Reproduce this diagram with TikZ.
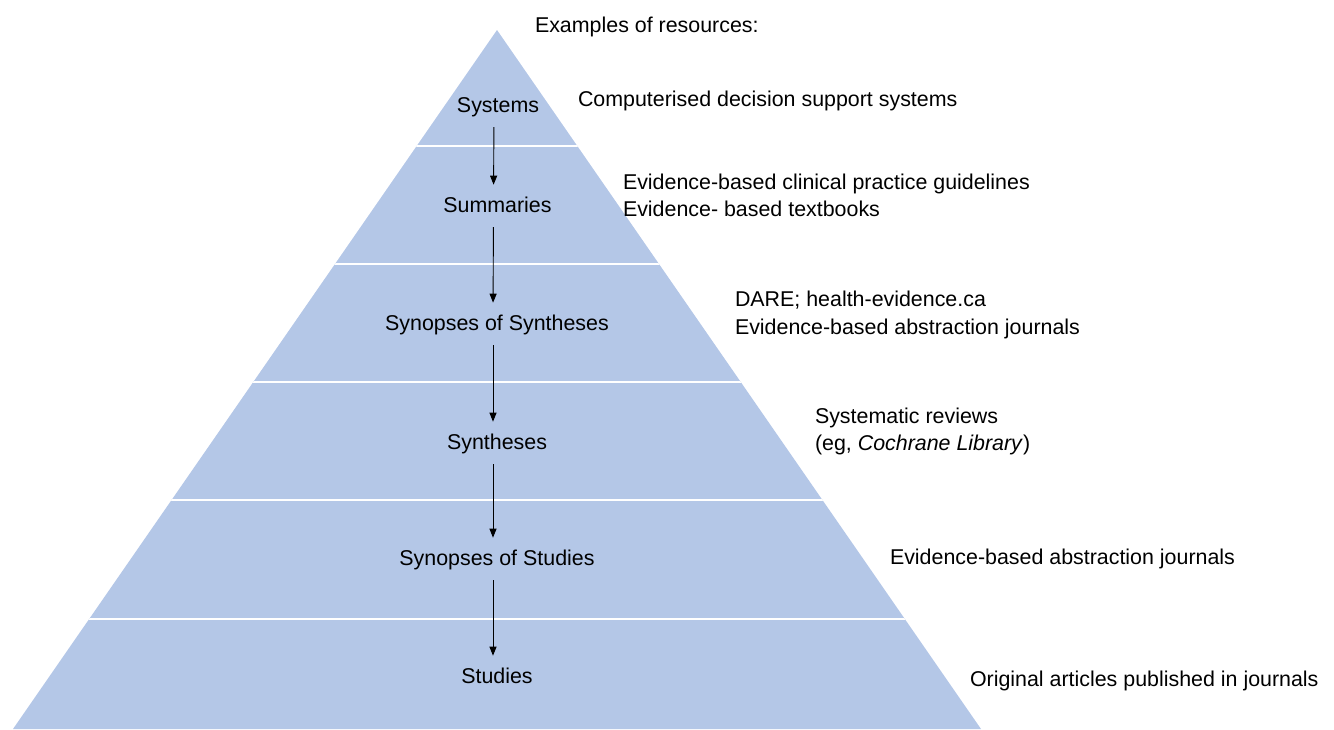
\documentclass[tikz,border=0pt]{standalone}
\usepackage{fontspec}
\setmainfont{Liberation Sans}
\usetikzlibrary{arrows.meta}
\definecolor{pyrblue}{HTML}{B4C7E7}
\begin{document}
\begin{tikzpicture}[x=1pt,y=-1pt,
  every node/.style={font=\fontsize{21.4}{26}\selectfont, inner sep=0pt, outer sep=0pt},
  lvl/.style={anchor=base, text height=15.3pt, text depth=4pt},
  res/.style={anchor=base west},
  sep/.style={white, line width=2pt},
  arr/.style={-{Triangle[width=7pt,length=9pt]}, line width=0.9pt, black, shorten <=11pt, shorten >=12pt}]
\useasboundingbox (0,0) rectangle (1334,729);
% pyramid
\coordinate (apex) at (497,30);
\coordinate (bl) at (13,729);
\coordinate (br) at (981,729);
\fill[pyrblue] (apex) -- (br) -- (bl) -- cycle;
\begin{scope}
  \clip (apex) -- (br) -- (bl) -- cycle;
  \foreach \yy in {146,264,382,500,619}
    \draw[sep] (0,\yy) -- (1334,\yy);
\end{scope}
% level labels
\node[lvl] (sys) at (498,112) {Systems};
\node[lvl] (sum) at (497.5,212) {Summaries};
\node[lvl] (sos) at (497,330) {Synopses of Syntheses};
\node[lvl] (syn) at (497,449) {Syntheses};
\node[lvl] (sst) at (497,565) {Synopses of Studies};
\node[lvl] (stu) at (497,683) {Studies};
% arrows
\draw[arr] ([xshift=-4pt]sys.south) -- ([xshift=-4pt]sum.north);
\draw[arr] ([xshift=-4pt]sum.south) -- ([xshift=-4pt]sos.north);
\draw[arr] ([xshift=-4pt]sos.south) -- ([xshift=-4pt]syn.north);
\draw[arr] ([xshift=-4pt]syn.south) -- ([xshift=-4pt]sst.north);
\draw[arr] ([xshift=-4pt]sst.south) -- ([xshift=-4pt]stu.north);
% resources
\node[res] (hdr) at (535,32) {Examples of resources:};
\node[res] (r1) at (578,106) {Computerised decision support systems};
\node[res] (r2a) at (623,189) {Evidence-based clinical practice guidelines};
\node[res] (r2b) at (623,216) {Evidence- based textbooks};
\node[res] (r3a) at (735,306) {DARE; health-evidence.ca};
\node[res] (r3b) at (735,334) {Evidence-based abstraction journals};
\node[res] (r4a) at (815,423) {Systematic reviews};
\node[res] (r4b) at (815,450) {(eg, \textit{Cochrane Library})};
\node[res] (r5) at (890,564) {Evidence-based abstraction journals};
\node[res] (r6) at (970,686) {Original articles published in journals};
\end{tikzpicture}
\end{document}
